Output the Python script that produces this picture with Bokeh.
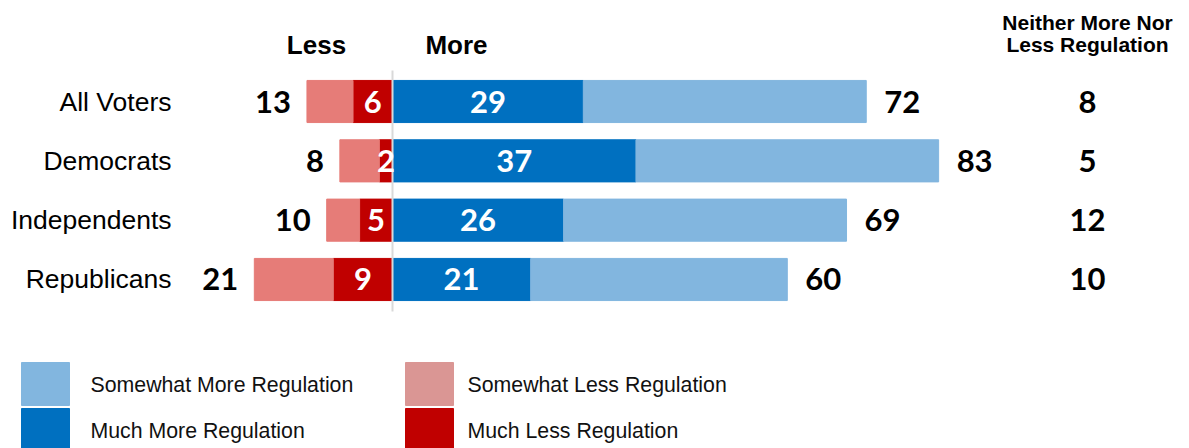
from bokeh.plotting import figure
from bokeh.models import Range1d, ColumnDataSource
from bokeh.core.properties import value
from bokeh.embed import file_html
from bokeh.resources import INLINE

groups = ["All Voters", "Democrats", "Independents", "Republicans"]
much_more = [29, 37, 26, 21]
total_more = [72, 83, 69, 60]
much_less = [6, 2, 5, 9]
total_less = [13, 8, 10, 21]
neither = [8, 5, 12, 10]
legend_labels = ["Somewhat More Regulation", "Much More Regulation",
                 "Somewhat Less Regulation", "Much Less Regulation"]
legend_colors = ["#82B6DF", "#0070C0", "#DA9694", "#C00000"]

C_SOME_MORE = "#82B6DF"
C_MUCH_MORE = "#0070C0"
C_SOME_LESS = "#E67C78"
C_MUCH_LESS = "#C00000"

W, H = 1189, 448
PX = 6.58        # pixels per percentage point
X0 = 392         # pixel of zero line
Y0 = 101         # pixel of first row centre
ROW = 59.33      # pixels per row


def lx(px):
    return (px - X0) / PX


def ly(py):
    return (py - Y0) / ROW


p = figure(width=W, height=H,
           x_range=Range1d(lx(0), lx(W)),
           y_range=Range1d(ly(H), ly(0)),
           output_backend="svg", toolbar_location=None,
           x_axis_location=None, y_axis_location=None,
           min_border=0, min_border_left=0, min_border_right=0,
           min_border_top=0, min_border_bottom=0)
p.grid.visible = False
p.outline_line_color = None
p.background_fill_color = "white"
p.border_fill_color = "white"

idx = list(range(len(groups)))
src = ColumnDataSource(dict(
    y=idx,
    much_more=much_more,
    total_more=total_more,
    neg_much_less=[-v for v in much_less],
    neg_total_less=[-v for v in total_less],
    mm_mid=[v / 2 for v in much_more],
    ml_mid=[-v / 2 for v in much_less],
    mm_txt=[str(v) for v in much_more],
    tm_txt=[str(v) for v in total_more],
    ml_txt=[str(v) for v in much_less],
    tl_txt=[str(v) for v in total_less],
    ne_txt=[str(v) for v in neither],
    grp=groups,
))

BH = 0.71
p.hbar(y="y", left=0, right="much_more", height=BH, color=C_MUCH_MORE, source=src)
p.hbar(y="y", left="much_more", right="total_more", height=BH, color=C_SOME_MORE, source=src)
p.hbar(y="y", left="neg_much_less", right=0, height=BH, color=C_MUCH_LESS, source=src)
p.hbar(y="y", left="neg_total_less", right="neg_much_less", height=BH, color=C_SOME_LESS, source=src)

# zero line
p.segment(x0=[0], y0=[ly(70)], x1=[0], y1=[ly(311)], line_color="#D9D9D9", line_width=2)

NUMF = value("Lato")
NUMS = "31px"
p.text(x="mm_mid", y="y", text="mm_txt", source=src, text_color="white",
       text_font=NUMF, text_font_size=NUMS, text_font_style="bold",
       text_align="center", text_baseline="middle")
p.text(x="ml_mid", y="y", text="ml_txt", source=src, text_color="white",
       text_font=NUMF, text_font_size=NUMS, text_font_style="bold",
       text_align="center", text_baseline="middle")
p.text(x="total_more", y="y", text="tm_txt", source=src, text_color="black",
       text_font=NUMF, text_font_size=NUMS, text_font_style="bold",
       text_align="left", text_baseline="middle", x_offset=18)
p.text(x="neg_total_less", y="y", text="tl_txt", source=src, text_color="black",
       text_font=NUMF, text_font_size=NUMS, text_font_style="bold",
       text_align="right", text_baseline="middle", x_offset=-16)
p.text(x=lx(1087), y="y", text="ne_txt", source=src, text_color="black",
       text_font=NUMF, text_font_size=NUMS, text_font_style="bold",
       text_align="center", text_baseline="middle")

# category labels
p.text(x=lx(171), y="y", text="grp", source=src, text_color="black",
       text_font=value("Liberation Sans"), text_font_size="26.5px",
       text_align="right", text_baseline="middle")

# headers
HF = value("Liberation Sans")
p.text(x=[lx(316)], y=[ly(44)], text=["Less"], text_color="black", text_font=HF,
       text_font_size="26px", text_font_style="bold", text_align="center", text_baseline="middle")
p.text(x=[lx(456)], y=[ly(44)], text=["More"], text_color="black", text_font=HF,
       text_font_size="26px", text_font_style="bold", text_align="center", text_baseline="middle")
p.text(x=[lx(1087), lx(1087)], y=[ly(22), ly(44)],
       text=["Neither More Nor", "Less Regulation"], text_color="black", text_font=HF,
       text_font_size="21px", text_font_style="bold", text_align="center", text_baseline="middle")

# legend
sq_left = [21, 21, 405, 405]
sq_top = [362, 408, 362, 408]
txt_left = [90, 90, 467, 467]
p.quad(left=[lx(v) for v in sq_left], right=[lx(v + 48) for v in sq_left],
       top=[ly(v) for v in sq_top], bottom=[ly(v + 43) for v in sq_top],
       color=legend_colors)
p.text(x=[lx(v) for v in txt_left], y=[ly(v + 22) for v in sq_top], text=legend_labels,
       text_color="#111111", text_font=value("Liberation Sans"), text_font_size="21.3px",
       text_align="left", text_baseline="middle")

open("out.html", "w").write(file_html(p, INLINE))
